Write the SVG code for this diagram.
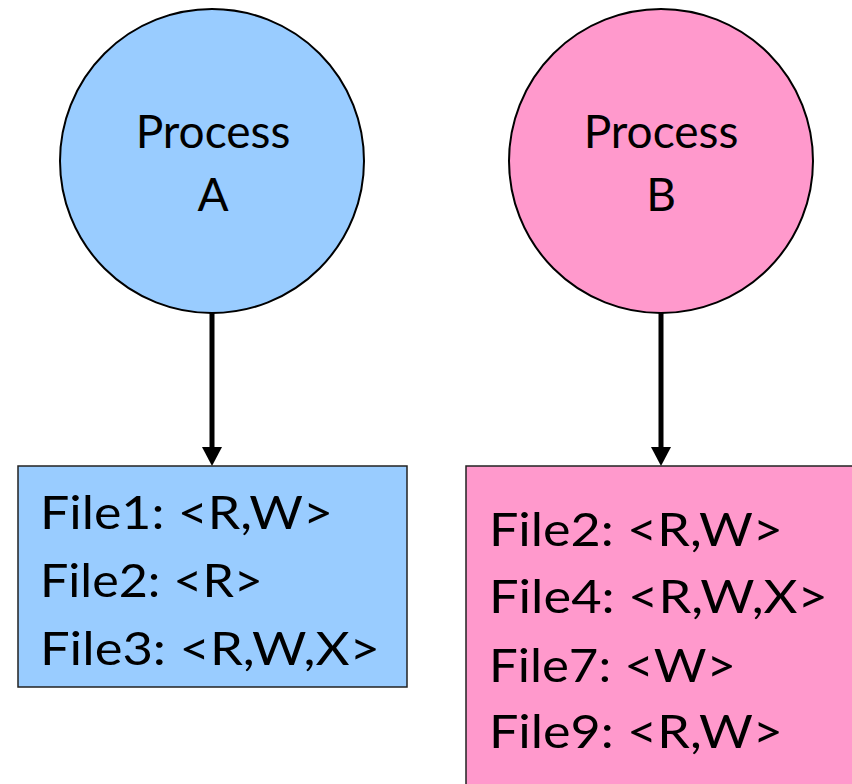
<svg xmlns="http://www.w3.org/2000/svg" width="852" height="784" viewBox="0 0 852 784">
  <style>
    .lbl { font-family: Lato, "Open Sans", "Liberation Sans", sans-serif; font-size: 46px; fill: #000; }
    .mid { text-anchor: middle; }
    .circ { stroke: #000; stroke-width: 2; }
    .box { stroke: #222; stroke-width: 1.5; }
    .edge { stroke: #000; stroke-width: 5; fill: none; }
    .head { fill: #000; }
    .blue { fill: #99CCFF; }
    .pink { fill: #FF99CC; }
  </style>

  <!-- connectors from each process to its file list -->
  <g id="connectors">
    <line class="edge" x1="212" y1="313" x2="212" y2="447"/>
    <path class="head" d="M202,447 L222,447 L212,466 Z"/>
    <line class="edge" x1="661" y1="313" x2="661" y2="447"/>
    <path class="head" d="M651,447 L671,447 L661,466 Z"/>
  </g>

  <g id="processA">
    <circle class="circ blue" cx="212" cy="161" r="152"/>
    <text class="lbl mid" x="213" y="148">Process</text>
    <text class="lbl mid" x="213" y="211">A</text>
  </g>

  <g id="processB">
    <circle class="circ pink" cx="661" cy="161" r="152"/>
    <text class="lbl mid" x="661" y="148">Process</text>
    <text class="lbl mid" x="661" y="211">B</text>
  </g>

  <g id="listA">
    <rect class="box blue" x="18" y="466" width="389" height="221"/>
    <text class="lbl" x="40" y="529" textLength="293" lengthAdjust="spacingAndGlyphs">File1: &lt;R,W&gt;</text>
    <text class="lbl" x="40" y="597" textLength="223" lengthAdjust="spacingAndGlyphs">File2: &lt;R&gt;</text>
    <text class="lbl" x="40" y="665" textLength="340" lengthAdjust="spacingAndGlyphs">File3: &lt;R,W,X&gt;</text>
  </g>

  <g id="listB">
    <rect class="box pink" x="466" y="466" width="400" height="340"/>
    <text class="lbl" x="489" y="546" textLength="294" lengthAdjust="spacingAndGlyphs">File2: &lt;R,W&gt;</text>
    <text class="lbl" x="489" y="613" textLength="339" lengthAdjust="spacingAndGlyphs">File4: &lt;R,W,X&gt;</text>
    <text class="lbl" x="489" y="682" textLength="247" lengthAdjust="spacingAndGlyphs">File7: &lt;W&gt;</text>
    <text class="lbl" x="489" y="748" textLength="294" lengthAdjust="spacingAndGlyphs">File9: &lt;R,W&gt;</text>
  </g>
</svg>
